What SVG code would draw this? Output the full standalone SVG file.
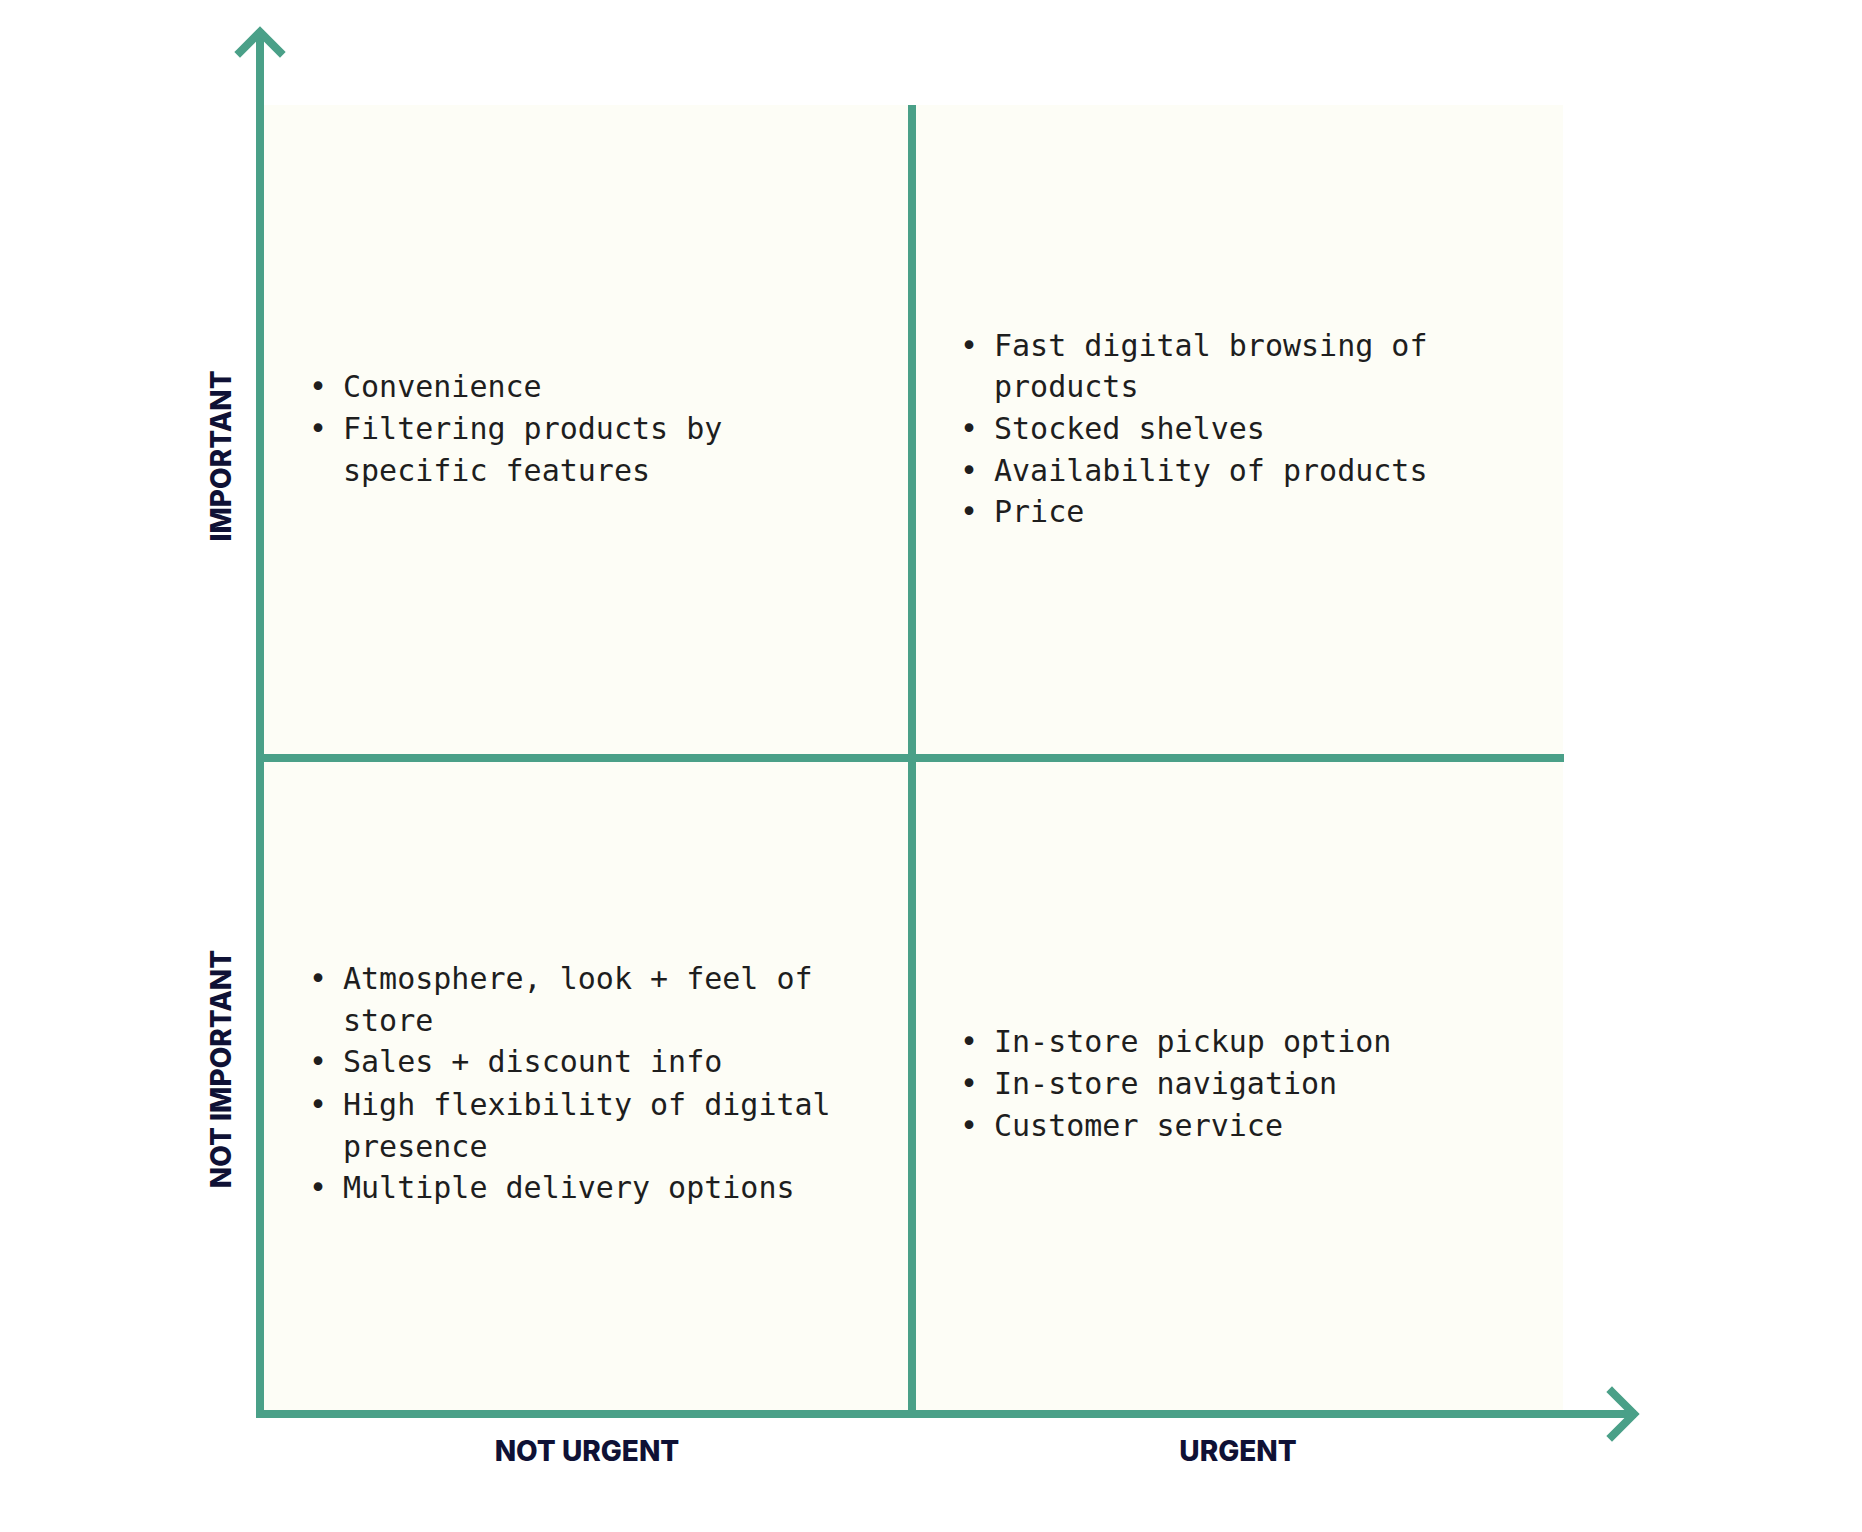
<svg xmlns="http://www.w3.org/2000/svg" width="1862" height="1532" viewBox="0 0 1862 1532">
<style>
.ax{stroke:#4aa088;stroke-width:8;fill:none;stroke-linecap:square}
.t{font-family:"DejaVu Sans Mono","Liberation Mono",monospace;font-size:30px;fill:#1e1e1e}
.lb{font-family:Inter,"Liberation Sans",sans-serif;font-weight:800;font-size:28px;fill:#0f1135;text-anchor:middle}
</style>
<rect width="1862" height="1532" fill="#ffffff"/>
<rect id="area" x="264" y="105" width="1299" height="1309" fill="#fdfdf6"/>
<g id="connectors">
<line class="ax" x1="912" y1="109" x2="912" y2="1410"/>
<line class="ax" x1="262" y1="758" x2="1560" y2="758"/>
<line class="ax" x1="260" y1="1414" x2="260" y2="34"/>
<polyline class="ax" points="240,52 260,32 280,52"/>
<line class="ax" x1="260" y1="1414" x2="1632" y2="1414"/>
<polyline class="ax" points="1612,1392 1634,1414 1612,1436"/>
</g>
<g id="q1">
<text class="t" x="309" y="397">•</text><text class="t" x="343" y="397">Convenience</text>
<text class="t" x="309" y="439">•</text><text class="t" x="343" y="439">Filtering products by</text>
<text class="t" x="343" y="481">specific features</text>
</g>
<g id="q2">
<text class="t" x="960" y="356">•</text><text class="t" x="994" y="356">Fast digital browsing of</text>
<text class="t" x="994" y="397">products</text>
<text class="t" x="960" y="439">•</text><text class="t" x="994" y="439">Stocked shelves</text>
<text class="t" x="960" y="481">•</text><text class="t" x="994" y="481">Availability of products</text>
<text class="t" x="960" y="522">•</text><text class="t" x="994" y="522">Price</text>
</g>
<g id="q3">
<text class="t" x="309" y="989">•</text><text class="t" x="343" y="989">Atmosphere, look + feel of</text>
<text class="t" x="343" y="1031">store</text>
<text class="t" x="309" y="1072">•</text><text class="t" x="343" y="1072">Sales + discount info</text>
<text class="t" x="309" y="1115">•</text><text class="t" x="343" y="1115">High flexibility of digital</text>
<text class="t" x="343" y="1157">presence</text>
<text class="t" x="309" y="1198">•</text><text class="t" x="343" y="1198">Multiple delivery options</text>
</g>
<g id="q4">
<text class="t" x="960" y="1052">•</text><text class="t" x="994" y="1052">In-store pickup option</text>
<text class="t" x="960" y="1094">•</text><text class="t" x="994" y="1094">In-store navigation</text>
<text class="t" x="960" y="1136">•</text><text class="t" x="994" y="1136">Customer service</text>
</g>
<g id="labels">
<text class="lb" x="587" y="1461">NOT URGENT</text>
<text class="lb" x="1238" y="1461">URGENT</text>
<text class="lb" transform="translate(231,456) rotate(-90)">IMPORTANT</text>
<text class="lb" transform="translate(231,1069) rotate(-90)">NOT IMPORTANT</text>
</g>
</svg>
